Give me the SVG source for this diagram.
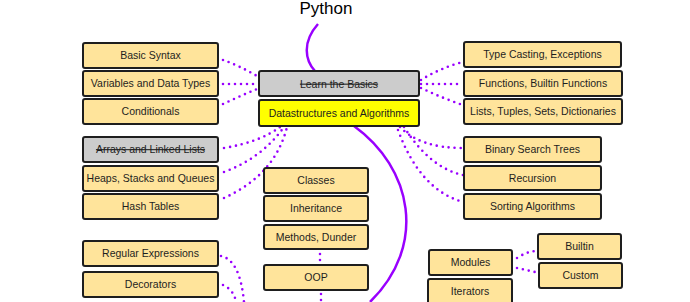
<svg xmlns="http://www.w3.org/2000/svg" width="690" height="302" viewBox="0 0 690 302">
<style>
.b{fill:#ffe49b;stroke:#1e1e1e;stroke-width:2}
.g{fill:#cccccc;stroke:#1e1e1e;stroke-width:2}
.y{fill:#ffff00;stroke:#1e1e1e;stroke-width:2}
.t{font-family:"Liberation Sans",Arial,sans-serif;font-size:10.5px;fill:#1e1e1e;text-anchor:middle}
.s{text-decoration:line-through}
.d{fill:none;stroke:#9900ff;stroke-width:2.6;stroke-linecap:round;stroke-dasharray:0 6}
.c{fill:none;stroke:#9900ff;stroke-width:2.5}
</style>
<rect width="690" height="302" fill="#ffffff"/>
<text x="326" y="14" font-family="'Liberation Sans',Arial,sans-serif" font-size="17" fill="#000" text-anchor="middle">Python</text>
<g id="connectors">
<path class="c" d="M318,24 C302,42 305,60 315,71"/>
<path class="c" d="M354,126 C412,168 428,245 370,302"/>
<path class="d" d="M223,60 Q240,66 257,76"/>
<path class="d" d="M223,84 L257,84"/>
<path class="d" d="M223,104 Q240,96 257,89"/>
<path class="d" d="M421,80 Q440,68 463,62"/>
<path class="d" d="M421,84 L463,84"/>
<path class="d" d="M421,88 Q442,98 463,105"/>
<path class="d" d="M224,148 Q260,142 280,127"/>
<path class="d" d="M224,172 Q262,158 284,127"/>
<path class="d" d="M224,198 Q275,175 287,127"/>
<path class="d" d="M400,127 Q420,148 463,148"/>
<path class="d" d="M404,127 Q430,168 463,175"/>
<path class="d" d="M398,130 Q420,190 463,202"/>
<path class="d" d="M517,258 Q526,252 535,251"/>
<path class="d" d="M517,268 Q526,270 535,272"/>
<path class="d" d="M320,254 L320,262"/>
<path class="d" d="M321,294 L321,302"/>
<path class="d" d="M221,256 Q240,260 244,302"/>
<path class="d" d="M223,285 Q234,290 236,302"/>
</g>
<g id="learn-basics"><rect class="g" x="259" y="71" width="160" height="25" rx="2"/><text class="t s" x="339" y="87.5">Learn the Basics</text></g>
<g id="datastructures"><rect class="y" x="259" y="100" width="160" height="26" rx="2"/><text class="t" x="339" y="116.5">Datastructures and Algorithms</text></g>
<g id="basic-syntax"><rect class="b" x="83" y="43" width="135" height="25" rx="2"/><text class="t" x="150.5" y="59">Basic Syntax</text></g>
<g id="variables"><rect class="b" x="83" y="71" width="135" height="25" rx="2"/><text class="t" x="150.5" y="87">Variables and Data Types</text></g>
<g id="conditionals"><rect class="b" x="83" y="99" width="135" height="25" rx="2"/><text class="t" x="150.5" y="115">Conditionals</text></g>
<g id="arrays"><rect class="g" x="83" y="137" width="135" height="25" rx="2"/><text class="t s" x="150.5" y="153">Arrays and Linked Lists</text></g>
<g id="heaps"><rect class="b" x="83" y="166" width="135" height="25" rx="2"/><text class="t" x="150.5" y="182">Heaps, Stacks and Queues</text></g>
<g id="hash"><rect class="b" x="83" y="194" width="135" height="25" rx="2"/><text class="t" x="150.5" y="210">Hash Tables</text></g>
<g id="regex"><rect class="b" x="83" y="241" width="135" height="25" rx="2"/><text class="t" x="150.5" y="257">Regular Expressions</text></g>
<g id="decorators"><rect class="b" x="83" y="272" width="135" height="25" rx="2"/><text class="t" x="150.5" y="288">Decorators</text></g>
<g id="type-casting"><rect class="b" x="464" y="42" width="157" height="25" rx="2"/><text class="t" x="542.5" y="58">Type Casting, Exceptions</text></g>
<g id="functions"><rect class="b" x="464" y="71" width="158" height="25" rx="2"/><text class="t" x="543" y="87">Functions, Builtin Functions</text></g>
<g id="lists"><rect class="b" x="464" y="99" width="158" height="25" rx="2"/><text class="t" x="543" y="115">Lists, Tuples, Sets, Dictionaries</text></g>
<g id="bst"><rect class="b" x="464" y="137" width="137" height="25" rx="2"/><text class="t" x="532.5" y="153">Binary Search Trees</text></g>
<g id="recursion"><rect class="b" x="464" y="166" width="137" height="24" rx="2"/><text class="t" x="532.5" y="181.5">Recursion</text></g>
<g id="sorting"><rect class="b" x="464" y="194" width="137" height="25" rx="2"/><text class="t" x="532.5" y="210">Sorting Algorithms</text></g>
<g id="classes"><rect class="b" x="264" y="168" width="104" height="25" rx="2"/><text class="t" x="316" y="184">Classes</text></g>
<g id="inheritance"><rect class="b" x="264" y="196" width="104" height="25" rx="2"/><text class="t" x="316" y="212">Inheritance</text></g>
<g id="methods"><rect class="b" x="264" y="225" width="104" height="24" rx="2"/><text class="t" x="316" y="240.5">Methods, Dunder</text></g>
<g id="oop"><rect class="b" x="264" y="265" width="104" height="25" rx="2"/><text class="t" x="316" y="281">OOP</text></g>
<g id="modules"><rect class="b" x="429" y="250" width="83" height="25" rx="2"/><text class="t" x="470.5" y="266">Modules</text></g>
<g id="iterators"><rect class="b" x="428" y="279" width="84" height="30" rx="2"/><text class="t" x="470" y="295">Iterators</text></g>
<g id="builtin"><rect class="b" x="538" y="234" width="83" height="25" rx="2"/><text class="t" x="579.5" y="250">Builtin</text></g>
<g id="custom"><rect class="b" x="539" y="263" width="83" height="25" rx="2"/><text class="t" x="580.5" y="279">Custom</text></g>
</svg>
